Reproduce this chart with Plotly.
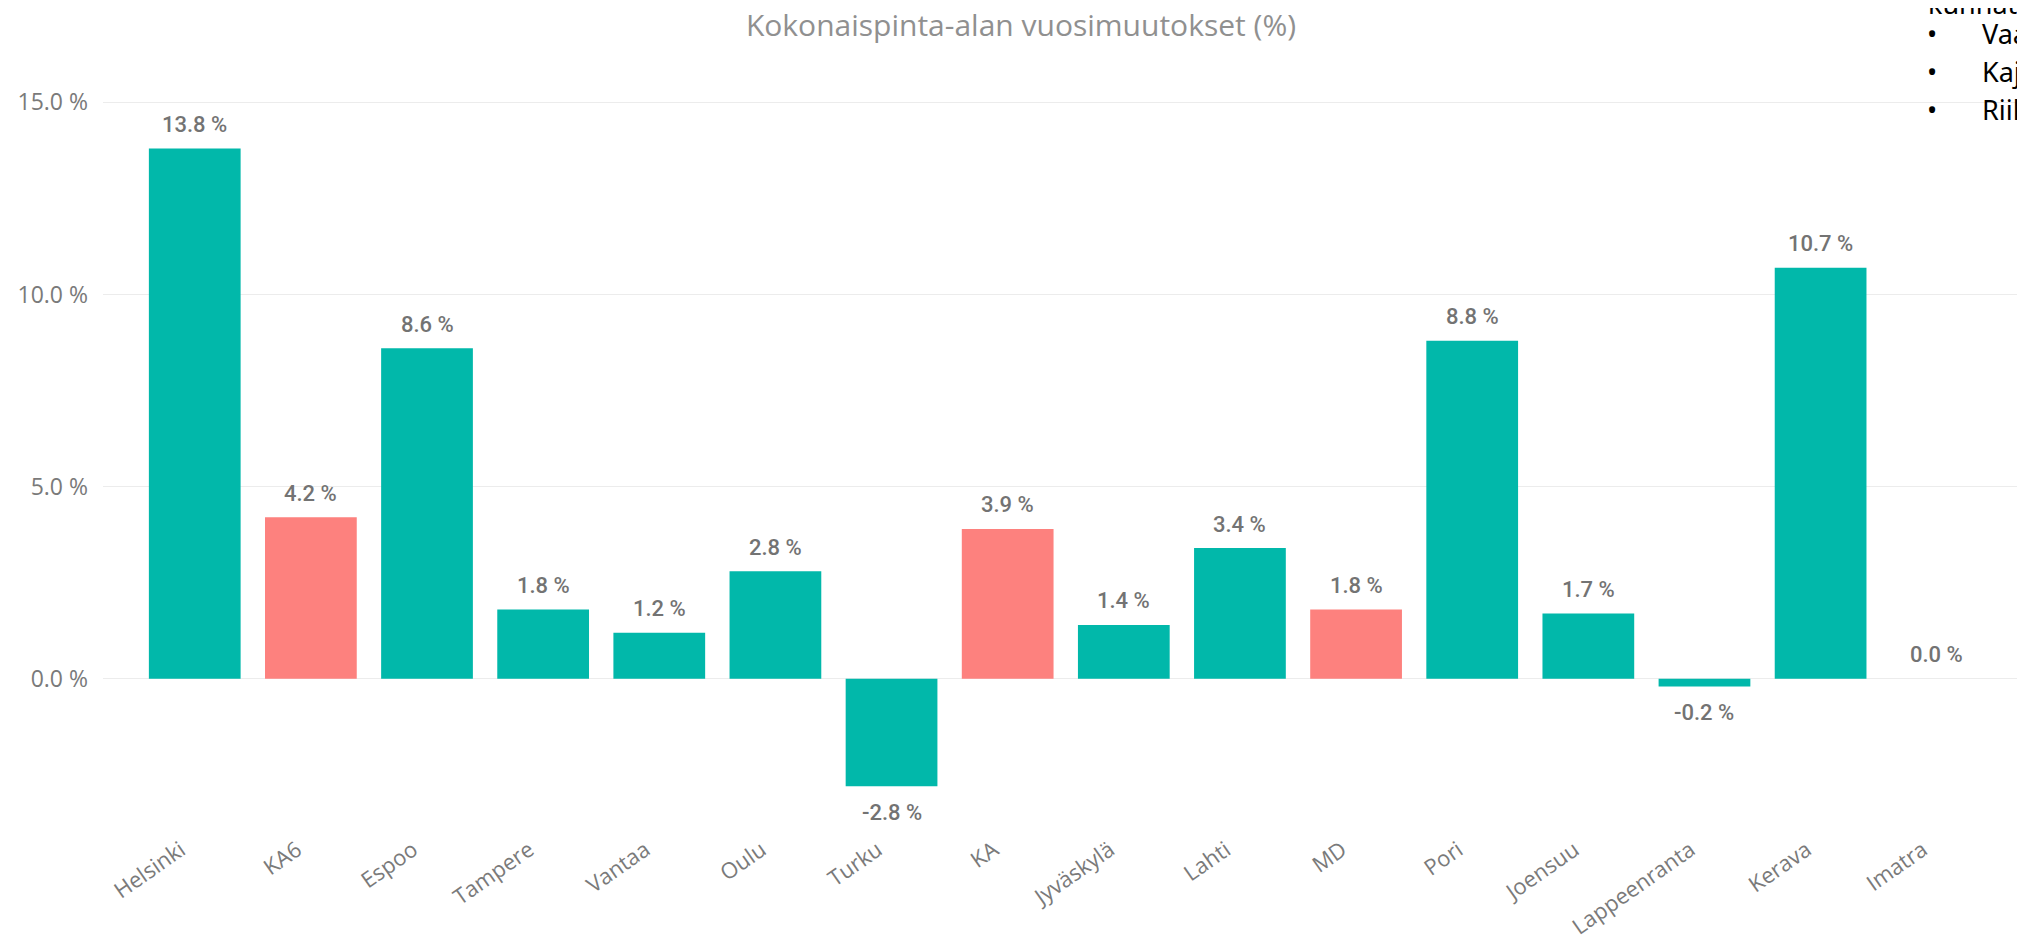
import plotly.graph_objects as go

categories = ["Helsinki", "KA6", "Espoo", "Tampere", "Vantaa", "Oulu", "Turku", "KA",
              "Jyväskylä", "Lahti", "MD", "Pori", "Joensuu", "Lappeenranta", "Kerava", "Imatra"]
values = [13.8, 4.2, 8.6, 1.8, 1.2, 2.8, -2.8, 3.9, 1.4, 3.4, 1.8, 8.8, 1.7, -0.2, 10.7, 0.0]
average_categories = ["KA6", "KA", "MD"]
y_ticks = [0, 5, 10, 15]
y_tick_labels = ["0.0 %", "5.0 %", "10.0 %", "15.0 %"]
title_text = "Kokonaispinta-alan vuosimuutokset (%)"
side_heading = "kunnat:"
side_items = ["Vaasa", "Kajaani", "Riihimäki"]

TEAL = "#01B8AA"
SALMON = "#FD817E"
colors = [SALMON if c in average_categories else TEAL for c in categories]

# page body has an 8px default margin; size the figure to fill the rest
OFF = 8
W, H = 2025 - OFF, 944 - OFF
ML, MR, MT, MB = 103 - OFF, 0, 64 - OFF, 150
PW = W - ML - MR
PH = H - MT - MB


def px_x(px):
    return (px - OFF - ML) / PW


def px_y(py):
    return (H - MB - (py - OFF)) / PH


xpos = list(range(len(categories)))
label_shift = 0.12

fig = go.Figure()
fig.add_trace(go.Bar(
    x=xpos,
    y=values,
    marker=dict(color=colors, line=dict(width=0)),
    width=0.79,
    hoverinfo="skip",
    showlegend=False,
))

annotations = []
for i, v in enumerate(values):
    annotations.append(dict(
        x=i, y=v, xref="x", yref="y",
        text=f"{v:.1f} %",
        showarrow=False,
        yanchor="middle", xanchor="center",
        yshift=24 if v >= 0 else -26,
        font=dict(family="Roboto", size=22, color="#737373", weight=500),
    ))

# overlapping slide text at top right
side_font = dict(family="Noto Sans", size=27, color="#000000")
annotations.append(dict(
    x=px_x(1926), y=px_y(3), xref="paper", yref="paper",
    text=side_heading, showarrow=False, xanchor="left", yanchor="middle",
    font=side_font,
))
for k, item in enumerate(side_items):
    yy = 33 + k * 38.5
    annotations.append(dict(
        x=px_x(1932), y=px_y(yy), xref="paper", yref="paper",
        text="•", showarrow=False, xanchor="center", yanchor="middle",
        font=side_font,
    ))
    annotations.append(dict(
        x=px_x(1980), y=px_y(yy), xref="paper", yref="paper",
        text=item, showarrow=False, xanchor="left", yanchor="middle",
        font=side_font,
    ))

fig.update_layout(
    width=W, height=H,
    margin=dict(l=ML, r=MR, t=MT, b=MB, pad=0, autoexpand=False),
    paper_bgcolor="white",
    plot_bgcolor="white",
    title=dict(
        text=title_text,
        x=(1021 - OFF) / W, xanchor="center", xref="container",
        y=1 - (25 - OFF) / H, yanchor="middle", yref="container",
        font=dict(family="Open Sans", size=30, color="#909090"),
    ),
    xaxis=dict(
        tickmode="array",
        tickvals=[p - label_shift for p in xpos],
        ticktext=categories,
        range=[-0.79, 15.76],
        tickangle=-35,
        ticklabelstandoff=38,
        automargin=False,
        tickfont=dict(family="Open Sans", size=22, color="#7a7a7a"),
        showgrid=False, showline=False, zeroline=False,
        ticks="",
    ),
    yaxis=dict(
        tickmode="array",
        tickvals=y_ticks,
        ticktext=y_tick_labels,
        range=[-3.0, 16.0],
        ticklabelstandoff=14,
        automargin=False,
        tickfont=dict(family="Open Sans", size=23, color="#7a7a7a"),
        showgrid=True, gridcolor="#ECECEC", gridwidth=1,
        zeroline=True, zerolinecolor="#ECECEC", zerolinewidth=1,
        showline=False, ticks="",
    ),
    annotations=annotations,
)

fig.write_html("out.html")
